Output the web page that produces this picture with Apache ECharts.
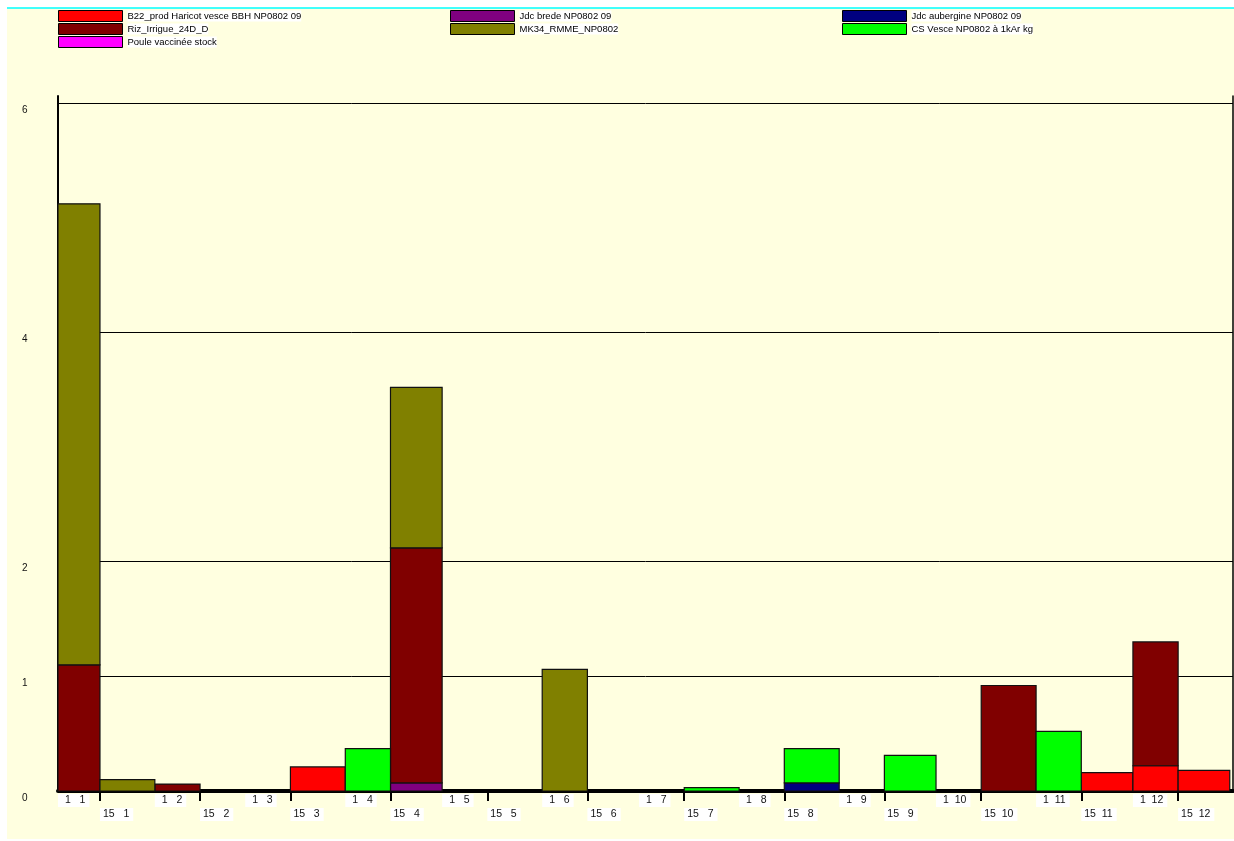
<!DOCTYPE html>
<html>
<head>
<meta charset="utf-8">
<script src="https://cdn.jsdelivr.net/npm/echarts@6/dist/echarts.min.js"></script>
<style>html,body{margin:0;padding:0;background:#fff}#c{width:1234px;height:841px}</style>
</head>
<body>
<div id="c"></div>
<script>
// ---- data ----
const YEAR = 2009;
const periodStarts = ['01-01','01-15','02-01','02-15','03-01','03-15','04-01','04-15','05-01','05-15','06-01','06-15',
                      '07-01','07-15','08-01','08-15','09-01','09-15','10-01','10-15','11-01','11-15','12-01','12-15'];
const lastPeriodEnd = '12-31';
const seriesNames = ['B22_prod Haricot vesce BBH NP0802 09','Jdc brede NP0802 09','Jdc aubergine NP0802 09',
                     'Riz_Irrigue_24D_D','MK34_RMME_NP0802','CS Vesce NP0802 à 1kAr kg','Poule vaccinée stock'];
const seriesColors = ['#FF0000','#800080','#000080','#800000','#808000','#00FF00','#FF00FF'];
const valB22   = [0,0,0,0,0,0.21,0,0,0,0,0,0,0,0,0,0,0,0,0,0,0,0.16,0.22,0.18];
const valBrede = [0,0,0,0,0,0,0,0.07,0,0,0,0,0,0,0,0,0,0,0,0,0,0,0,0];
const valAuber = [0,0,0,0,0,0,0,0,0,0,0,0,0,0,0,0.07,0,0,0,0,0,0,0,0];
const valRiz   = [1.10,0,0.06,0,0,0,0,2.05,0,0,0,0,0,0,0,0,0,0,0,0.92,0,0,1.08,0];
const valMK34  = [4.02,0.10,0,0,0,0,0,1.40,0,0,1.06,0,0,0,0,0,0,0,0,0,0,0,0,0];
const valVesce = [0,0,0,0,0,0,0.37,0,0,0,0,0,0,0.03,0,0.30,0,0.31,0,0,0.52,0,0,0];
const valPoule = [0,0,0,0,0,0,0,0,0,0,0,0,0,0,0,0,0,0,0,0,0,0,0,0];
const yTickValues = [0,1,2,4,6];
const row1Dates = ['01-01','02-01','03-01','04-01','05-01','06-01','07-01','08-01','09-01','10-01','11-01','12-01'];
const row1Labels = ['1   1','1   2','1   3','1   4','1   5','1   6','1   7','1   8','1   9','1  10','1  11','1  12'];
const row2Dates = ['01-15','02-15','03-15','04-15','05-15','06-15','07-15','08-15','09-15','10-15','11-15','12-15'];
const row2Labels = ['15   1','15   2','15   3','15   4','15   5','15   6','15   7','15   8','15   9','15  10','15  11','15  12'];

// ---- build ----
const X_MIN = 1, X_MAX = 365;
function dayOf(md){ const [m,d]=md.split('-').map(Number); return (Date.UTC(YEAR,m-1,d)-Date.UTC(YEAR,0,1))/86400000; }
const starts = periodStarts.map(dayOf);
const ends = starts.slice(1).concat([dayOf(lastPeriodEnd)]);
const allVals = [valB22,valBrede,valAuber,valRiz,valMK34,valVesce,valPoule];
const cum = new Array(starts.length).fill(0);
const series = allVals.map((vals,si)=>{
  const data=[];
  vals.forEach((v,i)=>{ if(v>0){ data.push([starts[i],ends[i],cum[i],cum[i]+v]); } cum[i]+=v; });
  return {
    type:'custom', name:seriesNames[si], xAxisIndex:0, yAxisIndex:0,
    itemStyle:{color:seriesColors[si], borderColor:'#000', borderWidth:1},
    encode:{x:[0,1], y:[2,3]},
    renderItem:(params,api)=>{
      const s=api.coord([api.value(0),api.value(2)]);
      const e=api.coord([api.value(1),api.value(3)]);
      const cs=params.coordSys;
      const shape=echarts.graphic.clipRectByRect({x:s[0],y:e[1],width:e[0]-s[0],height:s[1]-e[1]},{x:cs.x,y:cs.y,width:cs.width,height:cs.height});
      return shape && {type:'rect',shape:shape,style:{fill:api.visual('color'),stroke:'#111',lineWidth:1.2}};
    },
    data:data
  };
});
const row1Values = row1Dates.map(d=>Math.max(X_MIN,dayOf(d)));
const row2Values = row2Dates.map(dayOf);
const FONT = "'Liberation Sans', Arial, sans-serif";
function legendFor(names,left){
  return {
    orient:'vertical', left:left, top:10, padding:0, itemWidth:64, itemHeight:11, itemGap:1, itemTextGap:0,
    icon:'rect', selectedMode:false, data:names,
    itemStyle:{borderColor:'#000',borderWidth:1},
    textStyle:{fontFamily:FONT,fontSize:9.5,lineHeight:11,color:'#000',backgroundColor:'#fff',padding:0}
  };
}
const chart = echarts.init(document.getElementById('c'),null,{renderer:'canvas'});
chart.setOption({
  backgroundColor:'#fff',
  animation:false,
  graphic:[
    {type:'rect',z:-100,silent:true,shape:{x:7,y:8,width:1227,height:831},style:{fill:'#FFFFE0'}},
    {type:'line',z:-99,silent:true,shape:{x1:7,y1:8,x2:1234,y2:8},style:{stroke:'#00FFFF',lineWidth:1.5}}
  ],
  legend:[
    legendFor([seriesNames[0],seriesNames[3],seriesNames[6]],58),
    legendFor([seriesNames[1],seriesNames[4]],450),
    legendFor([seriesNames[2],seriesNames[5]],842)
  ],
  grid:{left:58,right:1,top:96,bottom:50,containLabel:false},
  xAxis:[
    {type:'value',min:X_MIN,max:X_MAX,position:'bottom',
     axisLine:{show:true,lineStyle:{color:'#000',width:4}},
     axisTick:{show:true,customValues:row2Values,length:10,lineStyle:{color:'#000',width:2}},
     axisLabel:{show:true,customValues:row1Values,margin:3,align:'left',fontFamily:FONT,fontSize:10.5,color:'#111',
       backgroundColor:'#fff',padding:[1,4,1,7],
       formatter:(v)=>{const i=row1Values.indexOf(v);return i>=0?row1Labels[i]:'';}},
     splitLine:{show:false}},
    {type:'value',min:X_MIN,max:X_MAX,position:'bottom',gridIndex:0,
     axisLine:{show:false},axisTick:{show:false},
     axisLabel:{show:true,customValues:row2Values,margin:17,align:'left',fontFamily:FONT,fontSize:10.5,color:'#111',
       backgroundColor:'#fff',padding:[1,4,1,3],
       formatter:(v)=>{const i=row2Values.indexOf(v);return i>=0?row2Labels[i]:'';}},
     splitLine:{show:false}}
  ],
  yAxis:[
    {type:'value',min:0,max:6.06,interval:1,position:'left',
     axisLine:{show:true,lineStyle:{color:'#000',width:2}},
     axisTick:{show:false},
     axisLabel:{show:true,margin:36,align:'left',verticalAlign:'top',padding:[2,0,0,0],fontFamily:FONT,fontSize:10,lineHeight:10,color:'#111',
       formatter:(v)=>yTickValues.indexOf(v)>=0?String(v):''},
     splitLine:{show:true,lineStyle:{width:1,color:['#000','#000','#000','rgba(0,0,0,0)','#000','rgba(0,0,0,0)','#000','rgba(0,0,0,0)']}}},
    {type:'value',min:0,max:6.06,interval:1,position:'right',
     axisLine:{show:true,lineStyle:{color:'#000',width:1.5}},
     axisTick:{show:false},axisLabel:{show:false},splitLine:{show:false}}
  ],
  series:series
});
</script>
</body>
</html>
